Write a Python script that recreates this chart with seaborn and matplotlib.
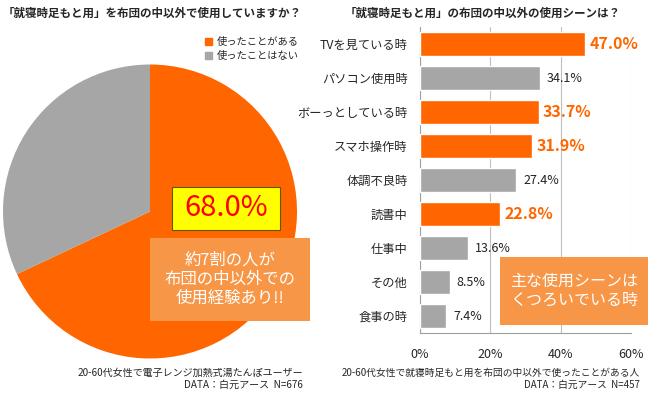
import matplotlib
matplotlib.use('Agg')
import matplotlib.pyplot as plt
from matplotlib.patches import Rectangle, Patch
import seaborn as sns
import numpy as np
import pandas as pd

# データ
pie_labels = ['使ったことがある', '使ったことはない']
pie_values = [68.0, 32.0]

scenes = ['TVを見ている時', 'パソコン使用時', 'ボーっとしている時', 'スマホ操作時',
          '体調不良時', '読書中', '仕事中', 'その他', '食事の時']
scene_values = [47.0, 34.1, 33.7, 31.9, 27.4, 22.8, 13.6, 8.5, 7.4]
highlight = ['TVを見ている時', 'ボーっとしている時', 'スマホ操作時', '読書中']
x_ticks = [0, 20, 40, 60]

ORANGE = '#FF6600'
GREY = '#A6A6A6'
BOX = '#F79646'

sns.set_style('white')
plt.rcParams['font.family'] = ['Noto Sans CJK JP', 'DejaVu Sans']

W, H = 650, 394
fig = plt.figure(figsize=(W / 100, H / 100), dpi=100)


def fx(px):
    return px / W


def fy(py):
    return 1 - py / H


# 円グラフ
cx, cy, r = 150, 211.5, 147
ax1 = fig.add_axes([fx(cx - r), fy(cy + r), 2 * r / W, 2 * r / H])
ax1.pie(pie_values, colors=[ORANGE, GREY], startangle=90, counterclock=False,
        radius=1, wedgeprops=dict(linewidth=0))
ax1.set_xlim(-1, 1)
ax1.set_ylim(-1, 1)
ax1.set_aspect('auto')
ax1.axis('off')

handles = [Patch(color=ORANGE), Patch(color=GREY)]
fig.legend(handles, pie_labels, loc='upper left', bbox_to_anchor=(fx(200), fy(32)),
           frameon=False, fontsize=7.4, handlelength=0.7, handleheight=0.7,
           handletextpad=0.4, labelspacing=0.4, borderpad=0)

fig.text(fx(3), fy(13), '「就寝時足もと用」を布団の中以外で使用していますか？',
         fontsize=8.3, fontweight='bold', va='center', ha='left')

# 棒グラフ
left, right, top, bottom = 420, 631, 27, 333
ax2 = fig.add_axes([fx(left), fy(bottom), (right - left) / W, (bottom - top) / H])
df = pd.DataFrame({'scene': scenes, 'value': scene_values})
palette = {s: (ORANGE if s in highlight else GREY) for s in scenes}
sns.barplot(data=df, x='value', y='scene', hue='scene', palette=palette,
            legend=False, width=0.68, saturation=1, ax=ax2, zorder=3)
ax2.set_xlim(0, 60)
ax2.set_ylim(len(scenes) - 0.5, -0.5)
ax2.set_xticks(x_ticks)
ax2.set_xticklabels([f'{t}%' for t in x_ticks], fontsize=9)
ax2.set_xlabel('')
ax2.set_ylabel('')
ax2.tick_params(axis='y', labelsize=8.8, length=0, pad=9)
ax2.tick_params(axis='x', length=3, direction='out', color='#A0A0A0', pad=8)
ax2.set_yticks(np.arange(len(scenes) + 1) - 0.5, minor=True)
ax2.tick_params(axis='y', which='minor', length=3, color='#A0A0A0')
ax2.xaxis.grid(True, color='#BFBFBF', linewidth=0.8, zorder=0)
ax2.yaxis.grid(False)
for s in ['top', 'right']:
    ax2.spines[s].set_visible(False)
for s in ['left', 'bottom']:
    ax2.spines[s].set_color('#A0A0A0')
    ax2.spines[s].set_linewidth(0.8)

for i, (s, v) in enumerate(zip(scenes, scene_values)):
    if s in highlight:
        ax2.annotate(f'{v:.1f}%', (v, i), xytext=(3, 0), textcoords='offset points',
                     va='center', ha='left', fontsize=11.5, fontweight='bold',
                     color=ORANGE)
    else:
        ax2.annotate(f'{v:.1f}%', (v, i), xytext=(5, 0), textcoords='offset points',
                     va='center', ha='left', fontsize=9, color='#222222')

fig.text(fx(345), fy(13), '「就寝時足もと用」の布団の中以外の使用シーンは？',
         fontsize=8.3, fontweight='bold', va='center', ha='left')

# 注釈ボックス
fig.add_artist(Rectangle((fx(172), fy(230)), (280 - 172) / W, (230 - 187) / H,
                         transform=fig.transFigure, facecolor='#FFFF00',
                         edgecolor='#5A5A00', linewidth=0.8))
fig.text(fx(226), fy(208.5), '68.0%', fontsize=21, color='#FF0000',
         ha='center', va='center')

fig.add_artist(Rectangle((fx(150), fy(321)), (310 - 150) / W, (321 - 238) / H,
                         transform=fig.transFigure, facecolor=BOX, edgecolor='none'))
fig.text(fx(230), fy(279.5), '約7割の人が\n布団の中以外での\n使用経験あり!!',
         fontsize=11.8, color='white', ha='center', va='center', linespacing=1.15)

fig.add_artist(Rectangle((fx(500), fy(325)), (648 - 500) / W, (325 - 257) / H,
                         transform=fig.transFigure, facecolor=BOX, edgecolor='none'))
fig.text(fx(574), fy(291), '主な使用シーンは\nくつろいでいる時',
         fontsize=11.5, color='white', ha='center', va='center', linespacing=1.15)

# 出典
fig.text(fx(303), fy(373), '20-60代女性で電子レンジ加熱式湯たんぽユーザー',
         fontsize=7.2, ha='right', va='center')
fig.text(fx(303), fy(385), 'DATA：白元アース  N=676',
         fontsize=7.2, ha='right', va='center')
fig.text(fx(640), fy(373), '20-60代女性で就寝時足もと用を布団の中以外で使ったことがある人',
         fontsize=7, ha='right', va='center')
fig.text(fx(640), fy(385), 'DATA：白元アース  N=457',
         fontsize=7, ha='right', va='center')

fig.savefig('out.png', dpi=100)
